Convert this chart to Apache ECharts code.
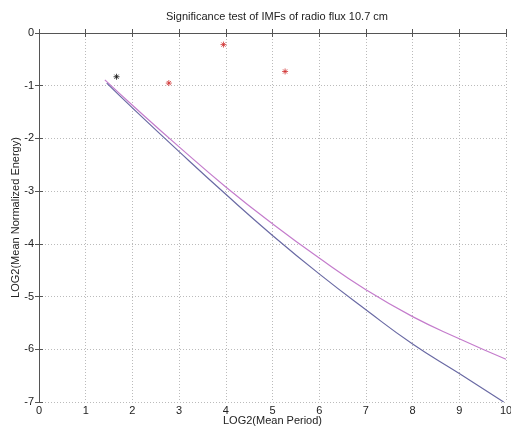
<!DOCTYPE html>
<html>
<head>
<meta charset="utf-8">
<script src="https://cdn.jsdelivr.net/npm/echarts@6/dist/echarts.min.js"></script>
<style>html,body{margin:0;padding:0;background:#fff}#c{width:511px;height:429px}</style>
</head>
<body>
<div id="c"></div>
<script>
const titleText = 'Significance test of IMFs of radio flux 10.7 cm';
const xName = 'LOG2(Mean Period)';
const yName = 'LOG2(Mean Normalized Energy)';
const xTicks = [0,1,2,3,4,5,6,7,8,9,10];
const yTicks = [0,-1,-2,-3,-4,-5,-6,-7];
// magenta (upper) significance curve
const magentaX = [1.41, 2, 3, 4, 5, 6, 7, 8, 9, 10];
const magentaY = [-0.89, -1.37, -2.16, -2.92, -3.62, -4.27, -4.87, -5.38, -5.80, -6.19];
// blue (lower) curve
const blueX = [1.45, 2, 3, 4, 5, 6, 7, 8, 9, 9.95];
const blueY = [-0.95, -1.42, -2.25, -3.06, -3.84, -4.57, -5.25, -5.90, -6.46, -7.0];
// IMF points
const blackPtX = [1.66];
const blackPtY = [-0.83];
const redPtX = [2.78, 3.95, 5.27];
const redPtY = [-0.95, -0.22, -0.73];

const zip = (a, b) => a.map((v, i) => [v, b[i]]);
const star = 'path://M5 0L5 10M0 5L10 5M1.5 1.5L8.5 8.5M8.5 1.5L1.5 8.5';
const font = 'Liberation Sans, Arial, sans-serif';
const axisCol = '#555';
const chart = echarts.init(document.getElementById('c'), null, {renderer: 'canvas'});
const gridLine = {show: true, lineStyle: {color: '#bbb', type: [1, 2], width: 1}};
chart.setOption({
  backgroundColor: '#fff',
  animation: false,
  title: {text: titleText, left: 272, top: 6, textAlign: 'center',
    textStyle: {fontFamily: font, fontSize: 11, fontWeight: 'normal', color: '#222'}},
  grid: {left: 39, right: 5, top: 33, bottom: 27, containLabel: false, outerBoundsMode: 'none'},
  xAxis: [{
    type: 'value', min: 0, max: 10, interval: 1,
    name: xName, nameLocation: 'middle', nameGap: 13, nameMoveOverlap: false,
    nameTextStyle: {fontFamily: font, fontSize: 11, color: '#222', verticalAlign: 'top'},
    axisLine: {show: true, lineStyle: {color: axisCol}},
    axisTick: {show: true, inside: true, length: 4, lineStyle: {color: axisCol}},
    axisLabel: {fontFamily: font, fontSize: 11, color: '#222', margin: 3},
    splitLine: gridLine
  }, {
    type: 'value', min: 0, max: 10, interval: 1, position: 'top',
    axisLine: {show: true, lineStyle: {color: axisCol}},
    axisTick: {show: true, inside: true, length: 4, lineStyle: {color: axisCol}},
    axisLabel: {show: false}, splitLine: {show: false}
  }],
  yAxis: [{
    type: 'value', min: -7, max: 0, interval: 1,
    name: yName, nameLocation: 'middle', nameGap: 18, nameMoveOverlap: false,
    nameTextStyle: {fontFamily: font, fontSize: 11, color: '#222'},
    axisLine: {show: true, lineStyle: {color: axisCol}},
    axisTick: {show: true, inside: true, length: 4, lineStyle: {color: axisCol}},
    axisLabel: {fontFamily: font, fontSize: 11, color: '#222', margin: 5},
    splitLine: gridLine
  }, {
    type: 'value', min: -7, max: 0, interval: 1, position: 'right',
    axisLine: {show: true, lineStyle: {color: axisCol}},
    axisTick: {show: true, inside: true, length: 4, lineStyle: {color: axisCol}},
    axisLabel: {show: false}, splitLine: {show: false}
  }],
  series: [
    {type: 'line', data: zip(magentaX, magentaY), smooth: true, symbol: 'none',
     lineStyle: {color: '#c47ccc', width: 1.2}},
    {type: 'line', data: zip(blueX, blueY), smooth: true, symbol: 'none',
     lineStyle: {color: '#6a6aa4', width: 1.2}},
    {type: 'scatter', data: zip(blackPtX, blackPtY), symbol: star, symbolSize: 6,
     itemStyle: {color: 'transparent', borderColor: '#111', borderWidth: 1}},
    {type: 'scatter', data: zip(redPtX, redPtY), symbol: star, symbolSize: 6,
     itemStyle: {color: 'transparent', borderColor: '#d03030', borderWidth: 1}}
  ]
});
</script>
</body>
</html>
